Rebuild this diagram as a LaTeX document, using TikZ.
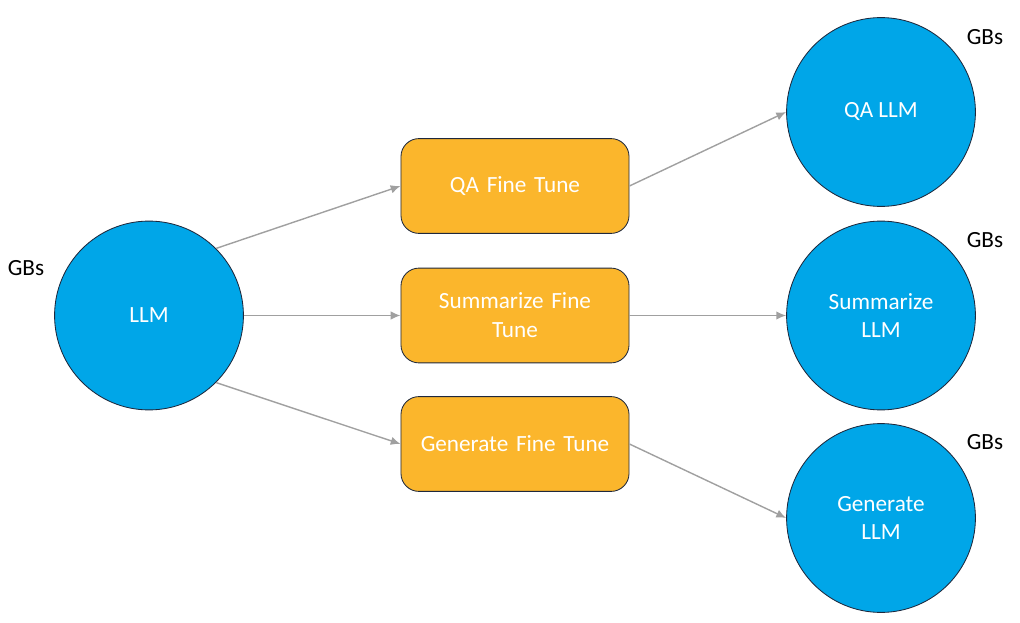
\documentclass[tikz,border=0pt]{standalone}
\usepackage{fontspec}
\setmainfont{Carlito}
\usetikzlibrary{arrows.meta}
\definecolor{llmblue}{RGB}{0,166,232}
\definecolor{tuneorange}{RGB}{251,182,44}
\definecolor{edgenavy}{RGB}{30,40,60}
\definecolor{arrowgray}{RGB}{160,160,160}
\tikzset{
  model/.style={circle, draw=edgenavy, line width=0.6pt, fill=llmblue, minimum size=4.72cm,
    text=white, font=\fontsize{16.5}{20.5}\selectfont, align=center, inner sep=0pt},
  tunebox/.style={rounded corners=0.45cm, draw=edgenavy, line width=0.6pt, fill=tuneorange,
    minimum width=5.7cm, minimum height=2.37cm, text=white, font=\fontsize{16.5}{20.5}\selectfont,
    align=center, text width=5.5cm, inner sep=0pt},
  sizetag/.style={font=\fontsize{16.5}{20}\selectfont, text=black},
  flow/.style={draw=arrowgray, line width=1pt, -{Latex[length=7pt,width=6pt]}}
}
\begin{document}
\begin{tikzpicture}[x=0.025cm, y=-0.025cm]
    \useasboundingbox (0,0) rectangle (1020,623);
    % source model
    \node[model] (llm) at (149,315.5) {LLM};
    \node[sizetag] (llmsize) at (26,268) {GBs};
    % fine tuning steps
    \node[tunebox] (qatune) at (515,186) {QA Fine Tune};
    \node[tunebox] (sumtune) at (515,315.5) {Summarize Fine\\Tune};
    \node[tunebox] (gentune) at (515,444) {Generate Fine Tune};
    % tuned models
    \node[model] (qallm) at (881,112) {QA LLM};
    \node[model] (sumllm) at (881,315.5) {Summarize\\LLM};
    \node[model] (genllm) at (881,518) {Generate\\LLM};
    \node[sizetag] (qasize) at (985,37) {GBs};
    \node[sizetag] (sumsize) at (985,240) {GBs};
    \node[sizetag] (gensize) at (985,442) {GBs};
    % connectors
    \draw[flow] (llm.north east) -- (qatune.west);
    \draw[flow] (llm.east) -- (sumtune.west);
    \draw[flow] (llm.south east) -- (gentune.west);
    \draw[flow] (qatune.east) -- (qallm.west);
    \draw[flow] (sumtune.east) -- (sumllm.west);
    \draw[flow] (gentune.east) -- (genllm.west);
\end{tikzpicture}
\end{document}
